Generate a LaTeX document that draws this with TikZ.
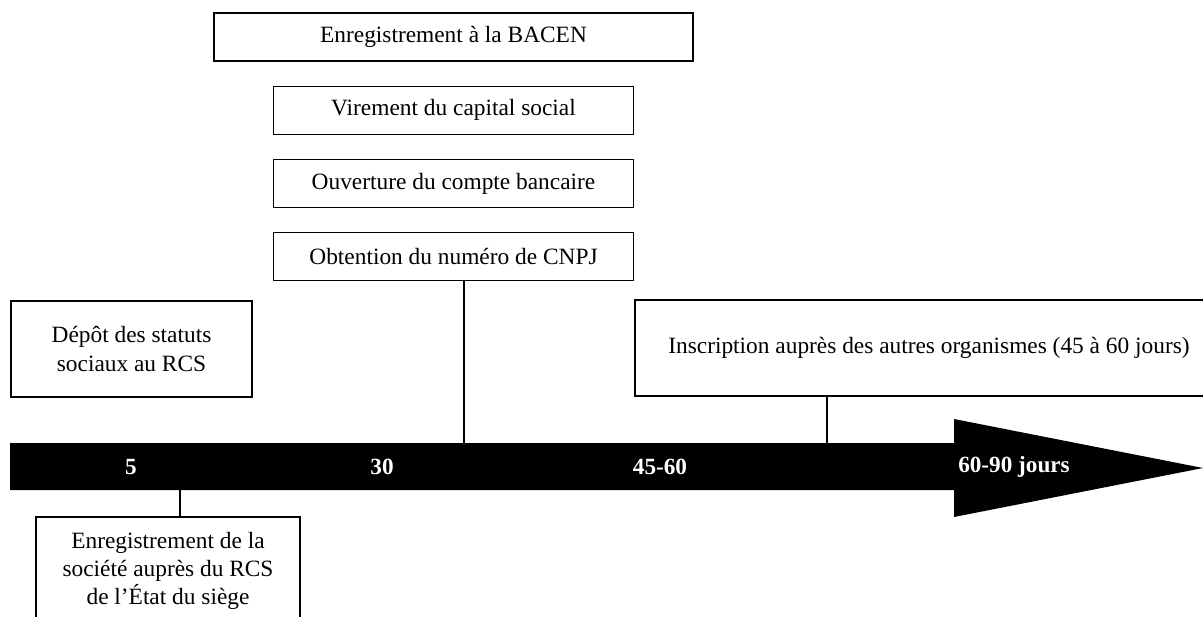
\documentclass[tikz,border=0pt]{standalone}
\usepackage{fontspec}
\setmainfont{Liberation Serif}
\usetikzlibrary{positioning}

\begin{document}
\begin{tikzpicture}
                [x=0.02cm, y=-0.02cm,
                 node distance=0.48cm,
                 etape/.style={draw,line width=0.7pt,align=center,inner sep=0pt,
                               font=\fontsize{13.3}{16}\selectfont},
                 etroite/.style={etape,minimum width=7.2cm,minimum height=0.96cm},
                 jalon/.style={text=white,font=\fontsize{13.2}{15}\selectfont\bfseries},
                 lien/.style={line width=0.7pt}]

                \useasboundingbox (0,0) rectangle (1203,616);

                % la fleche du temps
                \fill (10,443) -- (954,443) -- (954,419) -- (1203,468)
                      -- (954,517) -- (954,490) -- (10,490) -- cycle;

                \coordinate (t5)  at (180,490);
                \coordinate (t30) at (464,443);
                \coordinate (t60) at (827,443);

                \node[jalon] (j5)    at (131,467)  {5};
                \node[jalon] (j30)   at (382,467)  {30};
                \node[jalon] (j4560) at (660,467)  {45-60};
                \node[jalon] (j6090) at (1014,467) {60-90 jours};

                % les etapes
                \node[etape,minimum width=9.58cm,minimum height=0.96cm] (bacen) at (453.5,37)
                      {Enregistrement à la BACEN};
                \node[etroite] (virement)  [below=of bacen]     {Virement du capital social};
                \node[etroite] (ouverture) [below=of virement]  {Ouverture du compte bancaire};
                \node[etroite] (cnpj)      [below=of ouverture] {Obtention du numéro de CNPJ};

                \node[etape,minimum width=4.82cm,minimum height=1.92cm] (depot) at (131.5,349)
                      {Dépôt des statuts\\sociaux au RCS};
                \node[etape,minimum width=5.28cm,minimum height=2.16cm] (rcs) at (168,571)
                      {Enregistrement de la\\société auprès du RCS\\de l’État du siège};
                \node[etape,minimum width=11.76cm,minimum height=1.92cm] (inscription) at (929,348)
                      {Inscription auprès des autres organismes (45 à 60 jours)};

                \draw[line width=1.2pt] (t30 |- cnpj.south) -- (t30);
                \draw[lien] (t60 |- inscription.south) -- (t60);
                \draw[lien] (t5) -- (t5 |- rcs.north);

            \end{tikzpicture}
\end{document}
